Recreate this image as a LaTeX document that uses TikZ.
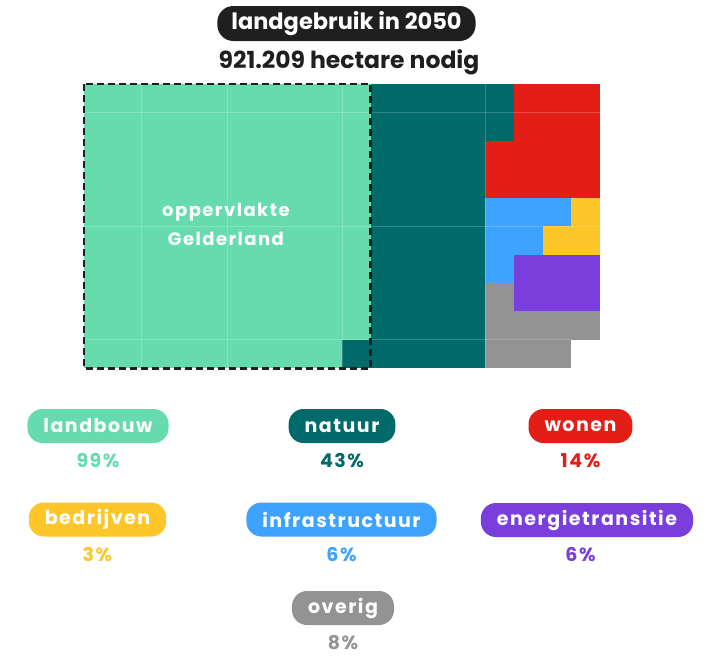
\documentclass[tikz,border=0pt]{standalone}
\usepackage{fontspec}
\setmainfont{Poppins}
\newfontfamily\labelfont[LetterSpace=8]{Poppins}
\usetikzlibrary{positioning}
\definecolor{landbouwcol}{HTML}{66DCAE}
\definecolor{natuurcol}{HTML}{006A6A}
\definecolor{wonencol}{HTML}{E31E16}
\definecolor{bedrijvencol}{HTML}{FFC629}
\definecolor{infracol}{HTML}{3EA2FF}
\definecolor{energiecol}{HTML}{7A3EDC}
\definecolor{overigcol}{HTML}{939393}
\definecolor{titlecol}{HTML}{1F1F1F}
\begin{document}
\begin{tikzpicture}[x=1pt,y=-1pt,
    pill/.style={fill=#1, text=white, rounded corners=15pt, minimum height=34pt,
      inner xsep=16pt, font=\labelfont\bfseries\fontsize{19}{22}\selectfont},
    pct/.style={text=#1, inner sep=1pt, font=\labelfont\bfseries\fontsize{19}{22}\selectfont}]
    \useasboundingbox (0,0) rectangle (711,656);
    % Title and total
    \node[fill=titlecol, text=white, rounded corners=16pt, minimum height=35pt, inner xsep=14pt,
      font=\bfseries\fontsize{22.5}{25}\selectfont] (title) at (346.5,23.5) {landgebruik in 2050};
    \node[text=titlecol, font=\bfseries\fontsize{23.5}{26}\selectfont] (total) at (349,62) {921.209 hectare nodig};
    % The grid, one cell is one percent of Gelderland
    \begin{scope}[shift={(84pt,-84pt)}, x=28.67pt, y=-28.43pt]
        % landbouw
        \fill[landbouwcol] (0,0) rectangle (10,9);
        \fill[landbouwcol] (0,9) rectangle (9,10);
        % natuur
        \fill[natuurcol] (9,9) rectangle (10,10);
        \fill[natuurcol] (10,0) rectangle (14,10);
        \fill[natuurcol] (14,0) rectangle (15,2);
        % wonen
        \fill[wonencol] (15,0) rectangle (18,2);
        \fill[wonencol] (14,2) rectangle (18,4);
        % infrastructuur
        \fill[infracol] (14,4) rectangle (17,5);
        \fill[infracol] (14,5) rectangle (16,6);
        \fill[infracol] (14,6) rectangle (15,7);
        % bedrijven
        \fill[bedrijvencol] (17,4) rectangle (18,5);
        \fill[bedrijvencol] (16,5) rectangle (18,6);
        % energietransitie
        \fill[energiecol] (15,6) rectangle (18,8);
        % overig
        \fill[overigcol] (14,7) rectangle (15,8);
        \fill[overigcol] (14,8) rectangle (18,9);
        \fill[overigcol] (14,9) rectangle (17,10);
        % Faint lines
        \foreach \c in {2,5,9,14}
            \draw[white, opacity=0.2, line width=0.8pt] (\c,0) -- (\c,10);
        \foreach \r in {1,5}
            \draw[white, opacity=0.2, line width=0.8pt] (0,\r) -- (18,\r);
        \draw[white, opacity=0.2, line width=0.8pt] (0,9) -- (17,9);
        % Outline of Gelderland
        \draw[titlecol, line width=2.6pt, dash pattern=on 7pt off 4pt] (0,0) rectangle (10,10);
        \node[text=white, align=center, font=\labelfont\bfseries\fontsize{18}{29}\selectfont] (gelderland) at (4.95,4.95) {oppervlakte\\Gelderland};
    \end{scope}
    % Legend
    \node[pill=landbouwcol] (landbouw) at (98,426) {landbouw};
    \node[pill=natuurcol] (natuur) at (342,426) {natuur};
    \node[pill=wonencol] (wonen) at (580.5,426) {wonen};
    \node[pill=bedrijvencol] (bedrijven) at (97.5,519.5) {bedrijven};
    \node[pill=infracol] (infra) at (341.5,519.5) {infrastructuur};
    \node[pill=energiecol] (energie) at (587,520) {energietransitie};
    \node[pill=overigcol] (overig) at (343,608) {overig};
    \node[pct=landbouwcol, below=9pt of landbouw] (landbouw-pct) {99\%};
    \node[pct=natuurcol, below=9pt of natuur] (natuur-pct) {43\%};
    \node[pct=wonencol, below=9pt of wonen] (wonen-pct) {14\%};
    \node[pct=bedrijvencol, below=9pt of bedrijven] (bedrijven-pct) {3\%};
    \node[pct=infracol, below=9pt of infra] (infra-pct) {6\%};
    \node[pct=energiecol, below=9pt of energie.south -| wonen] (energie-pct) {6\%};
    \node[pct=overigcol, below=9pt of overig] (overig-pct) {8\%};
\end{tikzpicture}
\end{document}
